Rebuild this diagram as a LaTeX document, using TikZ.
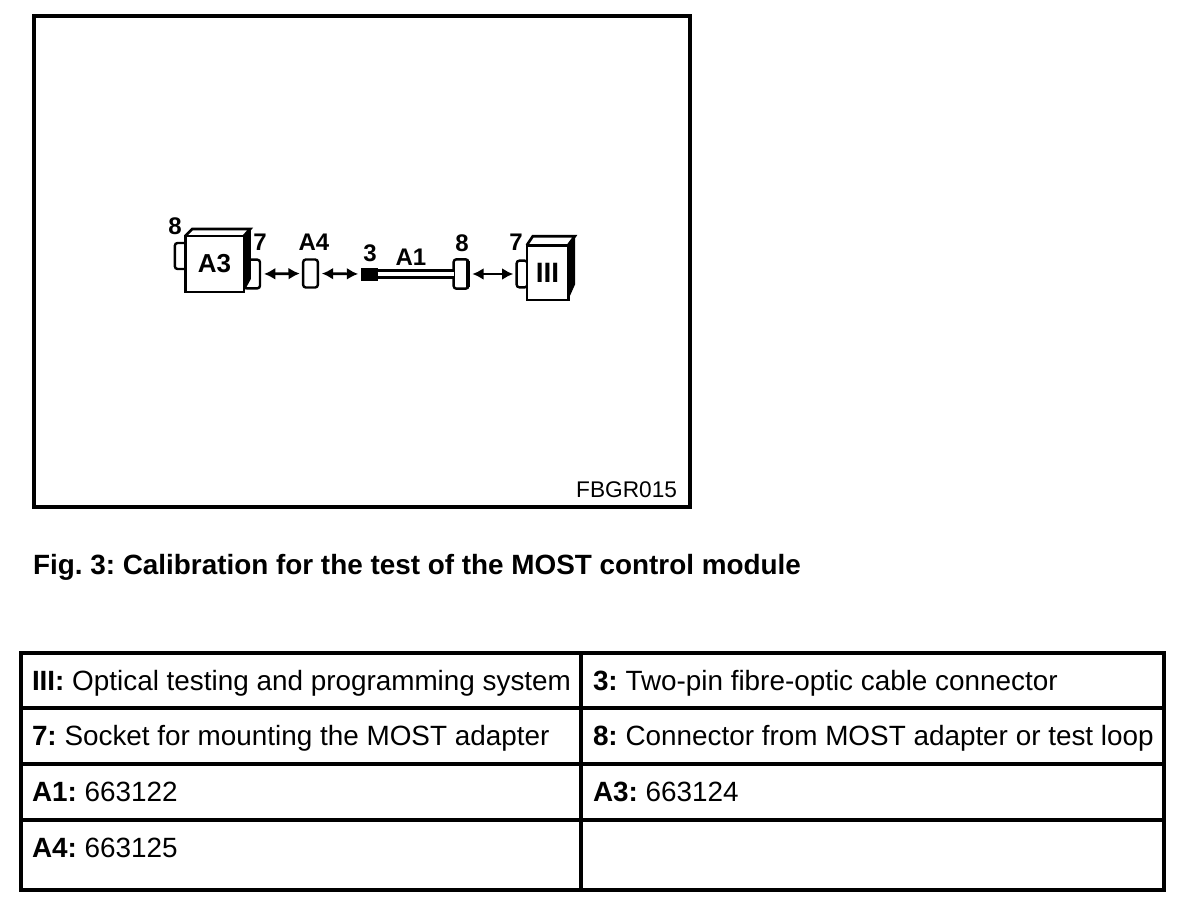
\documentclass[tikz,border=0pt]{standalone}
\usepackage{fontspec}
\setmainfont{Liberation Sans}
\usetikzlibrary{arrows.meta,calc}

\begin{document}
\frenchspacing
\begin{tikzpicture}[
    x=0.75pt, y=-0.75pt,
    every node/.style={inner sep=0pt, outer sep=0pt},
    frameline/.style={line width=3pt},
    gridline/.style={line width=2.3pt},
    face/.style={draw, line width=2pt, fill=white, minimum width=#1, font=\fontsize{19.5}{22}\selectfont\bfseries},
    plug/.style={draw, line width=1.8pt, fill=white, rounded corners=2pt, minimum width=#1},
    link/.style={{Latex[length=8.5pt,width=9pt]}-{Latex[length=8.5pt,width=9pt]}, line width=2pt, shorten >=2.5pt, shorten <=3pt},
    partlabel/.style={font=\fontsize{18}{21}\selectfont\bfseries},
    captiontext/.style={anchor=base west, font=\fontsize{20.9}{24}\selectfont\bfseries},
    celltext/.style={anchor=base west, font=\fontsize{20.9}{24}\selectfont},
]
\useasboundingbox (0,0) rectangle (1200,900);

% Outer frame
\draw[frameline] (34,16) rectangle (690,507);

% Connectors behind the boxes
\node[plug=10pt, minimum height=19.5pt] (a3back) at (181.5,256) {};
\node[plug=12pt, minimum height=21.5pt] (a3sock) at (252,274) {};
\node[plug=8pt, minimum height=20pt] (iiisock) at (522,274) {};

% Unit A3
\node[face=44pt, minimum height=42pt] (a3box) at (214.5,264) {A3};
\fill (a3box.north east) -- ++(7,-7) -- ++(0,50) -- (a3box.south east) -- cycle;
\draw[line width=2pt] (a3box.north west) -- ++(7,-7) -- ++(58,0) -- (a3box.north east);

% Unit III
\node[face=31pt, minimum height=41pt] (iiibox) at (547.5,272.5) {};
\fill (iiibox.north east) -- ++(7,-9) -- ++(0,48) -- (iiibox.south east) -- cycle;
\draw[line width=2pt] (iiibox.north west) -- ++(6,-9) -- ++(42,0) -- (iiibox.north east);
\node[font=\fontsize{21}{24}\selectfont\bfseries] (iiitext) at (iiibox) {III};

% Adapter and cable
\node[plug=11pt, minimum height=21pt] (a4plug) at (310.5,273.5) {};
\node[draw, fill=black, minimum width=12pt, minimum height=9pt] (conn3) at (369.5,274) {};
\node[plug=11pt, minimum height=22pt] (conn8) at (461,274) {};
\draw[line width=6.8pt] (conn3.east) -- (conn8.west);
\draw[white, line width=2.4pt] (conn3.east) -- (conn8.west);
\draw[line width=3pt] (conn8.north east) ++(0,2) -- ($(conn8.south east)+(0,-2)$);

% Arrows
\draw[link] (a3sock.east) -- (a4plug.west);
\draw[link] (a4plug.east) -- (conn3.west);
\draw[link] (conn8.east) -- (iiisock.west);

% Labels
\node[partlabel] (lab8a) at (175,226) {8};
\node[partlabel] (lab7a) at (260,242) {7};
\node[partlabel] (labA4) at (314,242) {A4};
\node[partlabel] (lab3) at (370,253) {3};
\node[partlabel] (labA1) at (411,257) {A1};
\node[partlabel] (lab8b) at (462,243) {8};
\node[partlabel] (lab7b) at (516,242) {7};
\node[font=\fontsize{17}{20}\selectfont, anchor=east] (code) at (677,490) {FBGR015};

% Caption
\node[captiontext] (caption) at (33,574) {Fig. 3: Calibration for the test of the MOST control module};

% Table
\draw[gridline] (21,653) rectangle (1164,890);
\draw[gridline] (21,708) -- (1164,708);
\draw[gridline] (21,764) -- (1164,764);
\draw[gridline] (21,820) -- (1164,820);
\draw[gridline] (581,653) -- (581,890);

\node[celltext] (iii) at (32,690) {\textbf{III:} Optical testing and programming system};
\node[celltext] (three) at (593,690) {\textbf{3:} Two-pin fibre-optic cable connector};
\node[celltext] (seven) at (32,745) {\textbf{7:} Socket for mounting the MOST adapter};
\node[celltext] (eight) at (593,745) {\textbf{8:} Connector from MOST adapter or test loop};
\node[celltext] (aone) at (32,801) {\textbf{A1:} 663122};
\node[celltext] (athree) at (593,801) {\textbf{A3:} 663124};
\node[celltext] (afour) at (32,857) {\textbf{A4:} 663125};

\end{tikzpicture}
\end{document}
